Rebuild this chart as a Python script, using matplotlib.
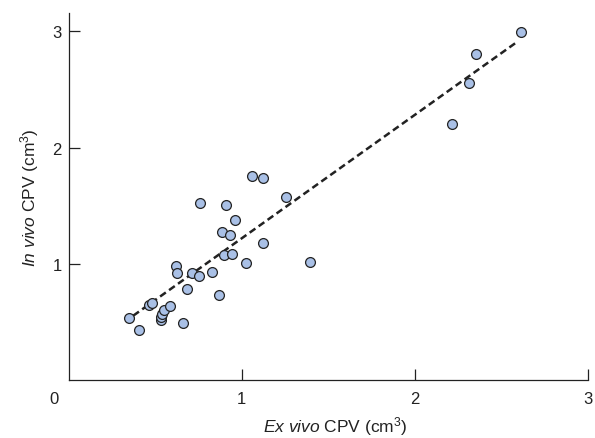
import numpy as np
import matplotlib
matplotlib.use('Agg')
import matplotlib.pyplot as plt

plt.rcParams['font.family'] = ['Liberation Sans', 'DejaVu Sans']
plt.rcParams['mathtext.fontset'] = 'custom'
plt.rcParams['mathtext.rm'] = 'Liberation Sans'
plt.rcParams['mathtext.it'] = 'Liberation Sans:italic'

# Ex vivo vs in vivo CPV (cm3)
ex_vivo = [0.349, 0.406, 0.466, 0.482, 0.532, 0.532, 0.538, 0.551, 0.586,
           0.662, 0.620, 0.628, 0.686, 0.711, 0.755, 0.828, 0.869, 0.759,
           0.899, 0.944, 1.023, 0.886, 0.934, 0.960, 0.911, 1.061, 1.125,
           1.254, 1.121, 1.395, 2.217, 2.314, 2.354, 2.613]
in_vivo = [0.534, 0.426, 0.647, 0.661, 0.512, 0.538, 0.564, 0.603, 0.638,
           0.491, 0.983, 0.917, 0.784, 0.917, 0.891, 0.928, 0.730, 1.526,
           1.072, 1.084, 1.003, 1.273, 1.247, 1.374, 1.506, 1.756, 1.736,
           1.578, 1.178, 1.017, 2.202, 2.558, 2.805, 2.995]

# regression line
fit_slope = 1.063
fit_intercept = 0.155
fit_range = [0.373, 2.59]

fig = plt.figure(figsize=(5.95, 4.39), dpi=100)
ax = fig.add_axes([0.1155, 0.1328, 0.8722, 0.8355])

fx = np.array(fit_range)
ax.plot(fx, fit_intercept + fit_slope * fx, color='#222222', lw=1.8,
        dashes=(2.8, 1.6), zorder=3)
ax.scatter(ex_vivo, in_vivo, s=50, facecolor='#a9c0e6', edgecolor='#222222',
           linewidth=0.9, zorder=4)

ax.set_xlim(0, 3)
ax.set_ylim(0, 3.16)
ax.spines['top'].set_visible(False)
ax.spines['right'].set_visible(False)
for s in ('left', 'bottom'):
    ax.spines[s].set_linewidth(0.9)
    ax.spines[s].set_color('#222222')

ax.set_xticks([1, 2, 3])
ax.set_yticks([1, 2, 3])
ax.tick_params(axis='both', direction='in', length=7.7, width=0.9,
               labelsize=12, color='#222222', labelcolor='#222222')
ax.tick_params(axis='x', pad=8)
ax.tick_params(axis='y', pad=5)
ax.annotate('0', xy=(0, 0), xytext=(-14.7, -18.3), textcoords='offset pixels',
            ha='center', va='center', fontsize=12, color='#222222')

ax.set_xlabel(r'$\it{Ex\ vivo}$ CPV (cm$^3$)', fontsize=12.5, color='#222222',
              va='center')
ax.set_ylabel(r'$\it{In\ vivo}$ CPV (cm$^3$)', fontsize=12.5, color='#222222',
              va='center')
ax.xaxis.set_label_coords(0.514, -0.126)
ax.yaxis.set_label_coords(-0.0746, 0.5)

fig.savefig('out.png', dpi=100)
